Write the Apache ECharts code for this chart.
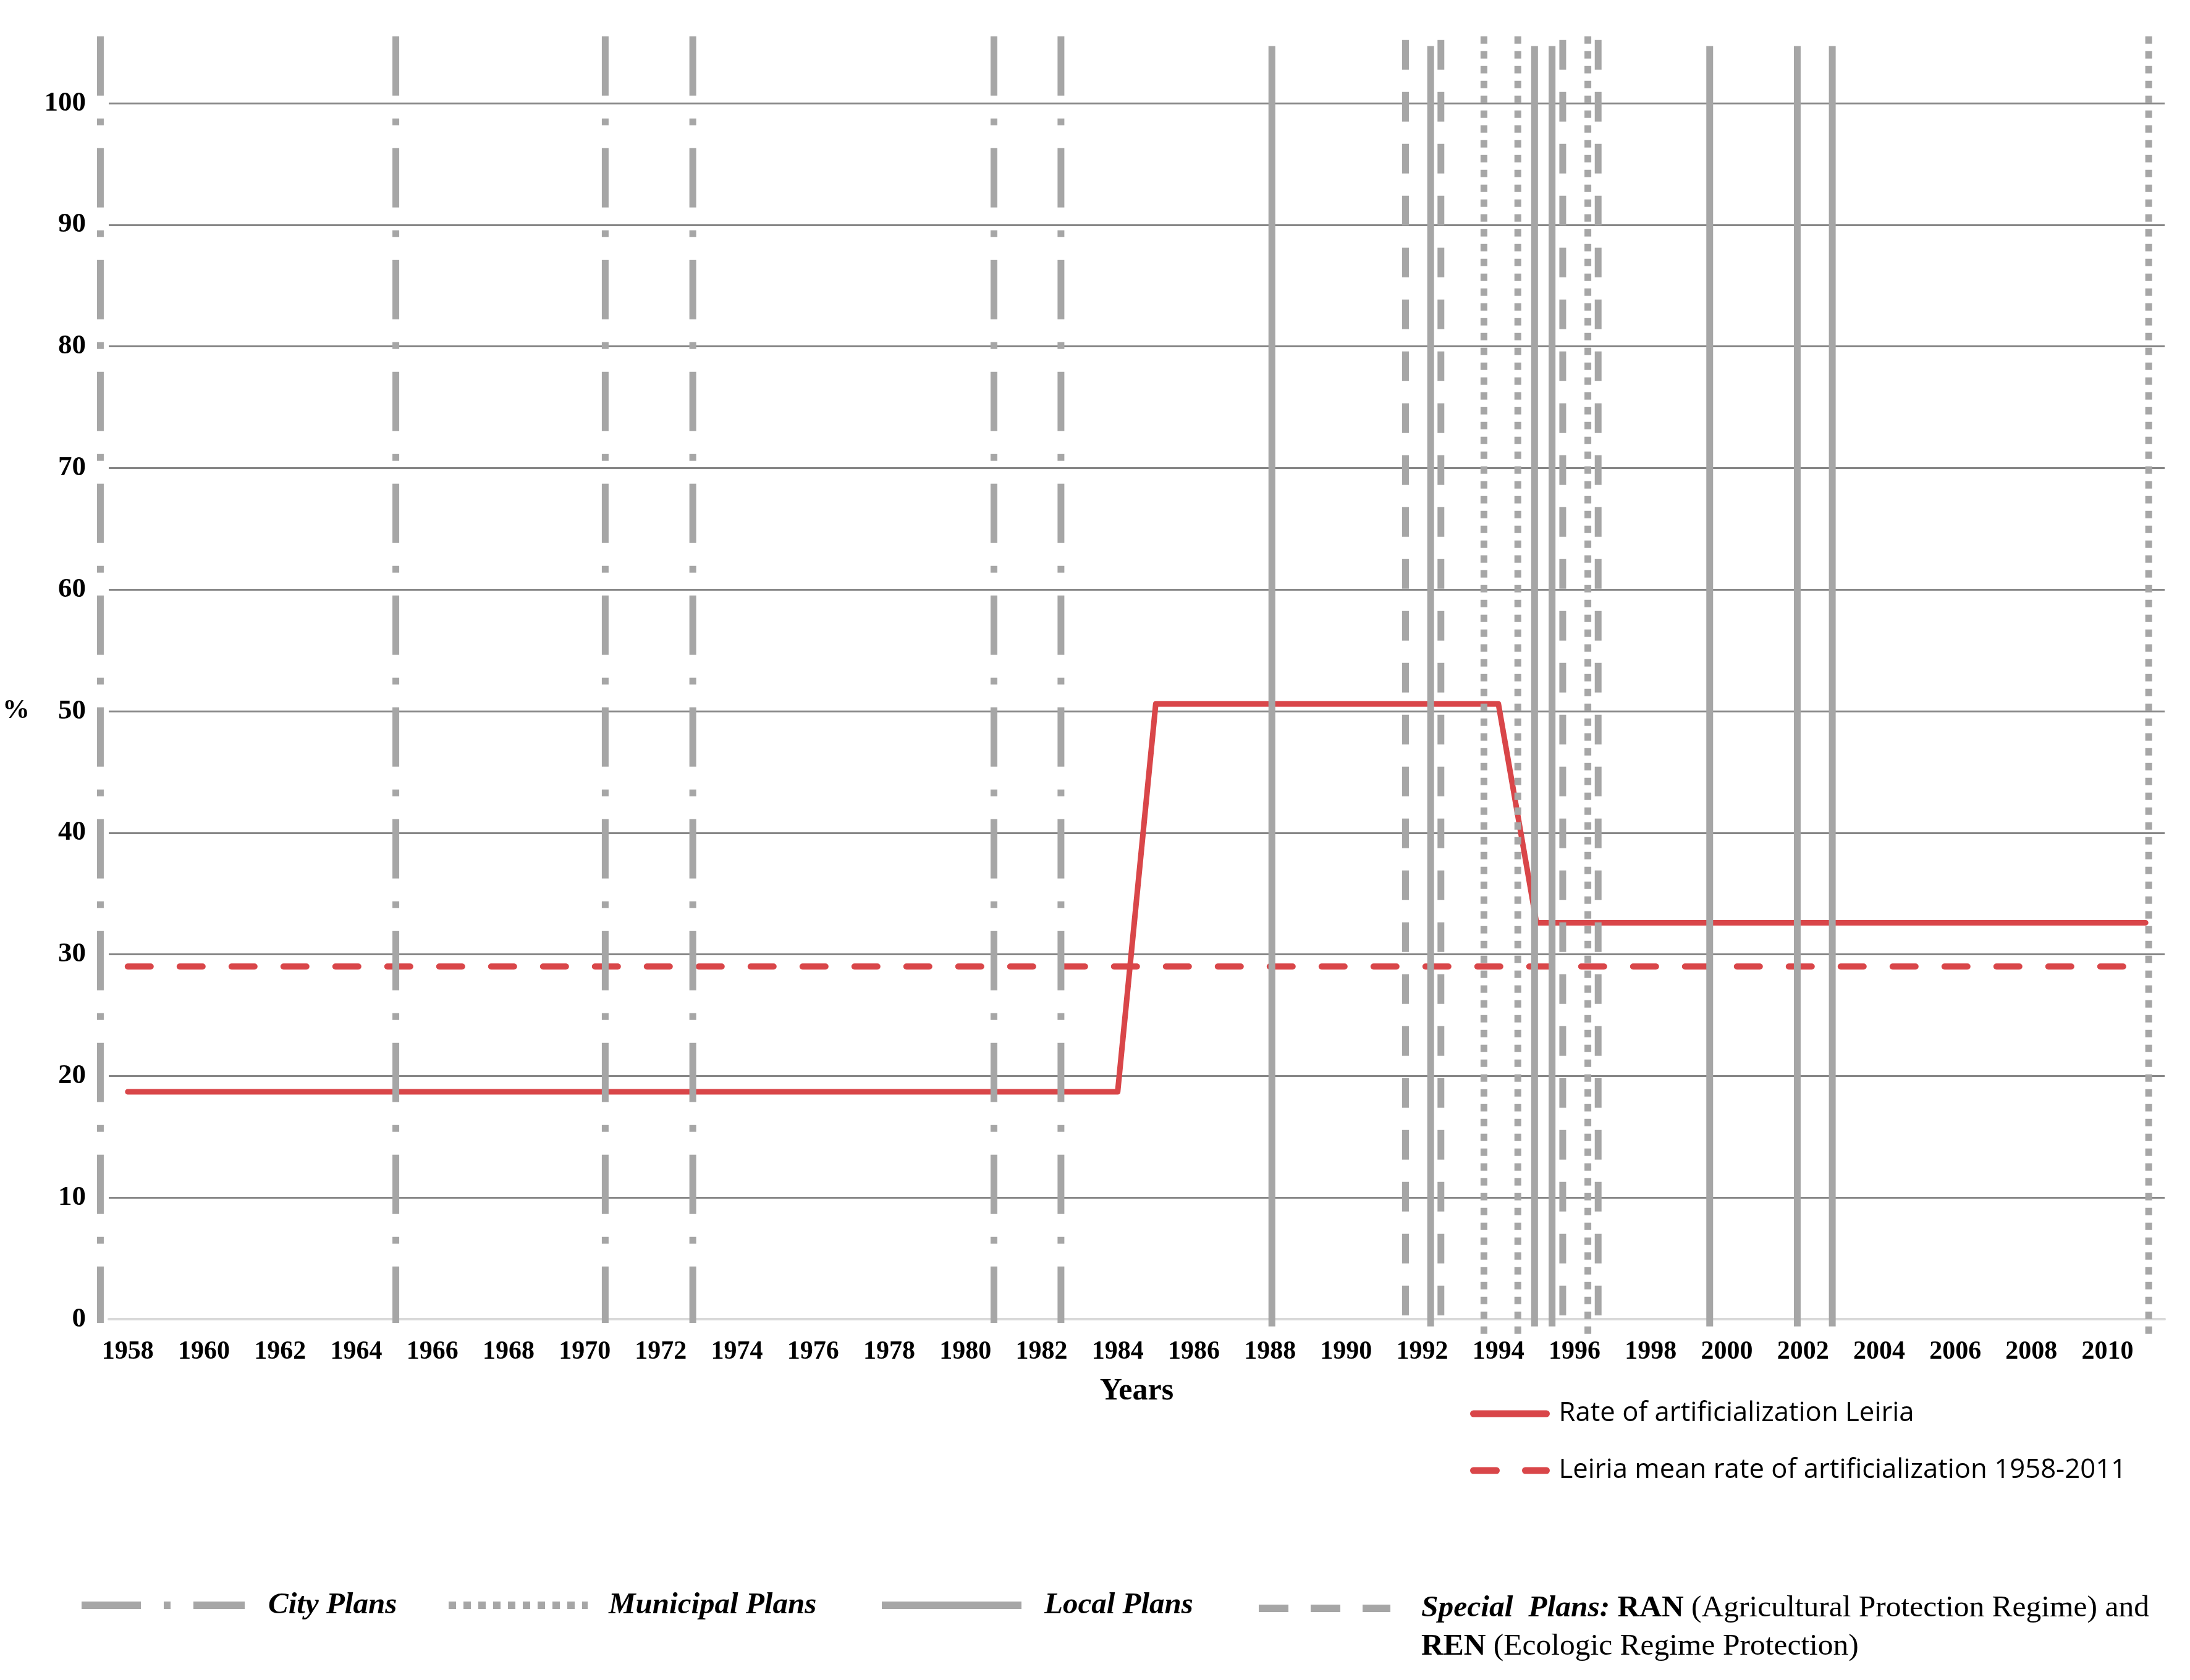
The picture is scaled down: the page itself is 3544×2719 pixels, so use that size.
<!DOCTYPE html>
<html>
<head>
<meta charset="utf-8">
<title>Rate of artificialization Leiria</title>
<script src="https://cdn.jsdelivr.net/npm/echarts@6/dist/echarts.min.js"></script>
<style>
    html, body { margin: 0; padding: 0; background: #fff; }
    #chart { width: 3544px; height: 2719px; }
</style>
</head>
<body>
<div id="chart"></div>
<script>
'use strict';

// category axis: one slot per year
var years = [
    '1958', '1959', '1960', '1961', '1962', '1963', '1964', '1965', '1966', '1967',
    '1968', '1969', '1970', '1971', '1972', '1973', '1974', '1975', '1976', '1977',
    '1978', '1979', '1980', '1981', '1982', '1983', '1984', '1985', '1986', '1987',
    '1988', '1989', '1990', '1991', '1992', '1993', '1994', '1995', '1996', '1997',
    '1998', '1999', '2000', '2001', '2002', '2003', '2004', '2005', '2006', '2007',
    '2008', '2009', '2010', '2011'
];

// rate of artificialization Leiria (%)
var rateLeiria = [
    18.7, 18.7, 18.7, 18.7, 18.7, 18.7, 18.7, 18.7, 18.7, 18.7,
    18.7, 18.7, 18.7, 18.7, 18.7, 18.7, 18.7, 18.7, 18.7, 18.7,
    18.7, 18.7, 18.7, 18.7, 18.7, 18.7, 18.7, 50.6, 50.6, 50.6,
    50.6, 50.6, 50.6, 50.6, 50.6, 50.6, 50.6, 32.6, 32.6, 32.6,
    32.6, 32.6, 32.6, 32.6, 32.6, 32.6, 32.6, 32.6, 32.6, 32.6,
    32.6, 32.6, 32.6, 32.6
];

// mean rate 1958-2011 (%)
var meanRate = [
    29.0, 29.0, 29.0, 29.0, 29.0, 29.0, 29.0, 29.0, 29.0, 29.0,
    29.0, 29.0, 29.0, 29.0, 29.0, 29.0, 29.0, 29.0, 29.0, 29.0,
    29.0, 29.0, 29.0, 29.0, 29.0, 29.0, 29.0, 29.0, 29.0, 29.0,
    29.0, 29.0, 29.0, 29.0, 29.0, 29.0, 29.0, 29.0, 29.0, 29.0,
    29.0, 29.0, 29.0, 29.0, 29.0, 29.0, 29.0, 29.0, 29.0, 29.0,
    29.0, 29.0, 29.0, 29.0
];

// plan dates (fractional years, read on the year scale)
var cityPlans = [1957.28, 1965.04, 1970.54, 1972.84, 1980.75, 1982.51];
var municipalPlans = [1993.62, 1994.51, 1996.35, 2011.08];
var localPlans = [1988.05, 1992.22, 1994.95, 1995.41, 1999.55, 2001.85, 2002.77];
var specialPlans = [1991.56, 1992.49, 1995.69, 1996.62];

// vertical reach of the plan markers [top, bottom] in %
var cityReach = [105.5, -0.3];
var municipalReach = [105.5, -1.5];
var localReach = [104.7, -0.6];
var specialReach = [105.2, 0.1];

var RED = '#d94649';
var GREY = '#a6a6a6';
var SERIF = '"Liberation Serif", "Times New Roman", serif';

// plot box (px) and one year slot width
var PLOT_LEFT = 176, PLOT_RIGHT = 41, PLOT_TOP = 167, PLOT_BOTTOM = 584;
var SLOT = (3544 - PLOT_LEFT - PLOT_RIGHT) / years.length;

// one vertical segment per date, drawn top -> bottom, broken by '-'
function planSegments(dates, reach) {
    var out = [];
    dates.forEach(function (d) {
        out.push([d, reach[0]], [d, reach[1]], [d, '-']);
    });
    return out;
}

function planSeries(name, dates, reach, dash) {
    return {
        name: name,
        type: 'line',
        xAxisIndex: 1,
        yAxisIndex: 1,
        data: planSegments(dates, reach),
        symbol: 'none',
        clip: false,
        silent: true,
        connectNulls: false,
        z: 5,
        lineStyle: { color: GREY, width: 11, type: dash, cap: 'butt' },
        itemStyle: { color: GREY }
    };
}

var chart = echarts.init(document.getElementById('chart'));

// legend for one plan type
function planLegend(name, left, top, width, pad) {
    return {
        data: [name],
        left: left,
        top: top,
        padding: 0,
        itemWidth: width,
        itemHeight: 56,
        selectedMode: false,
        lineStyle: { width: 12 },
        itemStyle: { opacity: 0 },
        textStyle: {
            fontFamily: SERIF,
            fontSize: 49,
            fontStyle: 'italic',
            fontWeight: 'bold',
            color: '#000',
            lineHeight: 60,
            padding: [0, 0, 0, pad]
        }
    };
}

var specialLegend = planLegend('Special Plans', 2031, 2510, 213, 45);
specialLegend.formatter = function () {
    return '{bi|Special  Plans:} {b|RAN} {r|(Agricultural Protection Regime) and}\n' +
        '{b|REN} {r|(Ecologic Regime Protection)}';
};
specialLegend.textStyle.padding = [62, 0, 0, 45];
specialLegend.textStyle.rich = {
    bi: { fontFamily: SERIF, fontSize: 49.5, fontStyle: 'italic', fontWeight: 'bold', color: '#000', lineHeight: 62 },
    b: { fontFamily: SERIF, fontSize: 49.5, fontStyle: 'normal', fontWeight: 'bold', color: '#000', lineHeight: 62 },
    r: { fontFamily: SERIF, fontSize: 49.5, fontStyle: 'normal', fontWeight: 'normal', color: '#000', lineHeight: 62 }
};

var option = {
    backgroundColor: '#fff',
    animation: false,
    grid: [
        // main plot
        { left: PLOT_LEFT, right: PLOT_RIGHT, top: PLOT_TOP, bottom: PLOT_BOTTOM },
        // same box, widened half a slot on the left so year values line up with the categories
        { left: PLOT_LEFT - SLOT / 2, right: PLOT_RIGHT, top: PLOT_TOP, bottom: PLOT_BOTTOM }
    ],
    legend: [
        {
            data: ['Rate of artificialization Leiria', 'Leiria mean rate of artificialization 1958-2011'],
            orient: 'vertical',
            left: 2379,
            top: 2263,
            padding: 0,
            itemWidth: 118,
            itemHeight: 20,
            itemGap: 42,
            selectedMode: false,
            lineStyle: { width: 11 },
            itemStyle: { opacity: 0 },
            textStyle: {
                fontFamily: '"Open Sans", sans-serif',
                fontSize: 43.7,
                color: '#000',
                lineHeight: 50,
                padding: [0, 0, 0, 15]
            }
        },
        planLegend('City Plans', 126, 2568, 264, 33),
        planLegend('Municipal Plans', 720, 2568, 225, 29),
        planLegend('Local Plans', 1421, 2568, 226, 32),
        specialLegend
    ],
    xAxis: [
        {
            type: 'category',
            gridIndex: 0,
            data: years,
            boundaryGap: true,
            name: 'Years',
            nameLocation: 'middle',
            nameGap: 92,
            nameTextStyle: { fontFamily: SERIF, fontSize: 50, fontWeight: 'bold', color: '#000' },
            axisLine: { show: true, lineStyle: { color: '#d9d9d9', width: 4 } },
            axisTick: { show: false },
            axisLabel: {
                interval: 1,
                margin: 32,
                fontFamily: SERIF,
                fontSize: 42,
                fontWeight: 'bold',
                color: '#000'
            },
            splitLine: { show: false }
        },
        {
            type: 'value',
            gridIndex: 1,
            min: 1957,
            max: 2011.5,
            show: false,
            splitLine: { show: false }
        }
    ],
    yAxis: [
        {
            type: 'value',
            gridIndex: 0,
            min: 0,
            max: 100,
            interval: 10,
            name: '%',
            nameLocation: 'middle',
            nameRotate: 0,
            nameGap: 128,
            nameTextStyle: { fontFamily: SERIF, fontSize: 44, fontWeight: 'bold', color: '#000' },
            axisLine: { show: false },
            axisTick: { show: false },
            axisLabel: {
                margin: 37,
                fontFamily: SERIF,
                fontSize: 45,
                fontWeight: 'bold',
                color: '#000'
            },
            splitLine: { show: true, lineStyle: { color: '#868686', width: 3 } }
        },
        {
            type: 'value',
            gridIndex: 1,
            min: 0,
            max: 100,
            show: false,
            splitLine: { show: false }
        }
    ],
    series: [
        {
            name: 'Rate of artificialization Leiria',
            type: 'line',
            data: rateLeiria,
            symbol: 'none',
            silent: true,
            z: 3,
            lineStyle: { color: RED, width: 9, cap: 'round', join: 'round' },
            itemStyle: { color: RED }
        },
        {
            name: 'Leiria mean rate of artificialization 1958-2011',
            type: 'line',
            data: meanRate,
            symbol: 'none',
            silent: true,
            z: 3,
            lineStyle: { color: RED, width: 10, type: [37, 47], cap: 'round' },
            itemStyle: { color: RED }
        },
        planSeries('City Plans', cityPlans, cityReach, [96, 37, 11, 37]),
        planSeries('Municipal Plans', municipalPlans, municipalReach, [12, 12]),
        planSeries('Local Plans', localPlans, localReach, 'solid'),
        planSeries('Special Plans', specialPlans, specialReach, [48, 36])
    ]
};

chart.setOption(option);
</script>
</body>
</html>
